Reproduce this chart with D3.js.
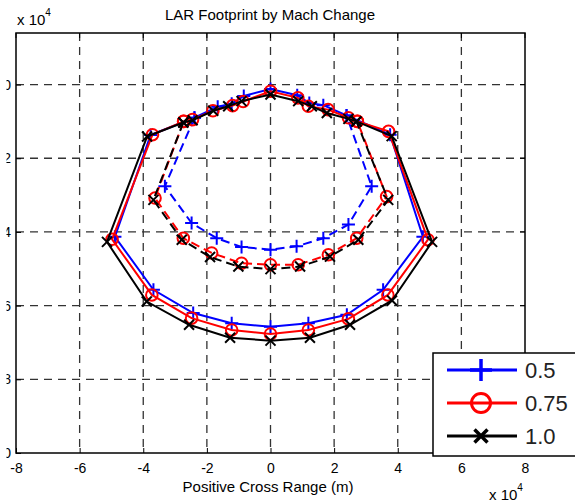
<!DOCTYPE html>
<html>
<head>
<meta charset="utf-8">
<script src="https://cdn.jsdelivr.net/npm/d3@7"></script>
<style>
  body { margin: 0; background: #fff; }
  svg { display: block; font-family: Arial, "Liberation Sans", sans-serif; }
</style>
</head>
<body>
<div id="chart"></div>
<script>
// tick values (units of 1e4 m)
const xTicks = [-8, -6, -4, -2, 0, 2, 4, 6, 8];
const yTicks = [-10, -8, -6, -4, -2, 0];

const machLabels = ['0.5', '0.75', '1.0'];

// outer footprint (closed): top arc left->right, right corner, bottom arc right->left, left corner
const m05OuterX = [-3.77, -2.39, -1.66, -1.22, -0.84, 0, 0.84, 1.22, 1.66, 2.39, 3.76, 4.79, 3.54, 2.40, 1.19, 0, -1.22, -2.43, -3.68, -4.89];
const m05OuterY = [-1.37, -0.90, -0.60, -0.52, -0.31, -0.12, -0.29, -0.50, -0.56, -0.84, -1.36, -4.13, -5.57, -6.25, -6.48, -6.57, -6.48, -6.20, -5.57, -4.13];
const m05InnerX = [-2.39, -3.32, -2.48, -1.69, -0.91, 0, 0.82, 1.66, 2.45, 3.18, 2.39];
const m05InnerY = [-0.90, -2.76, -3.76, -4.17, -4.41, -4.48, -4.39, -4.17, -3.80, -2.76, -0.84];

const m075OuterX = [-3.71, -2.73, -2.45, -1.81, -1.19, -0.86, 0, 0.86, 1.19, 1.81, 2.45, 2.73, 3.71, 4.95, 3.69, 2.45, 1.19, 0, -1.22, -2.48, -3.73, -4.98];
const m075OuterY = [-1.36, -1.00, -0.95, -0.71, -0.57, -0.46, -0.18, -0.36, -0.59, -0.68, -0.90, -1.00, -1.27, -4.21, -5.71, -6.36, -6.66, -6.77, -6.66, -6.34, -5.71, -4.20];
const m075InnerX = [-2.73, -3.63, -2.74, -1.85, -0.91, 0, 0.87, 1.82, 2.71, 3.65, 2.73];
const m075InnerY = [-1.00, -3.08, -4.17, -4.57, -4.85, -4.89, -4.89, -4.62, -4.17, -3.04, -1.00];

const m10OuterX = [-3.88, -2.74, -2.45, -1.80, -1.33, -0.91, 0, 0.87, 1.30, 1.77, 2.45, 2.70, 3.81, 5.08, 3.82, 2.50, 1.24, 0, -1.27, -2.56, -3.89, -5.14];
const m10OuterY = [-1.41, -1.03, -0.97, -0.71, -0.59, -0.45, -0.27, -0.45, -0.59, -0.77, -0.93, -1.00, -1.40, -4.27, -5.86, -6.52, -6.87, -6.95, -6.87, -6.52, -5.89, -4.27];
const m10InnerX = [-2.74, -3.68, -2.79, -1.90, -1.01, 0, 0.93, 1.87, 2.76, 3.70, 2.70];
const m10InnerY = [-1.03, -3.13, -4.21, -4.68, -4.94, -5.01, -4.94, -4.67, -4.21, -3.13, -1.00];

const width = 575, height = 503;
const margin = { left: 16, right: 50, top: 33, bottom: 50 };

const x = d3.scaleLinear().domain([-8, 8]).range([margin.left, width - margin.right]);
const y = d3.scaleLinear().domain([-10, 1.4]).range([height - margin.bottom, margin.top]);

const zip = (xs, ys) => xs.map((v, i) => [v, ys[i]]);

const series = [
  { name: machLabels[0], color: '#0000ff', marker: 'plus',   outer: zip(m05OuterX, m05OuterY),  inner: zip(m05InnerX, m05InnerY) },
  { name: machLabels[1], color: '#ff0000', marker: 'circle', outer: zip(m075OuterX, m075OuterY), inner: zip(m075InnerX, m075InnerY) },
  { name: machLabels[2], color: '#000000', marker: 'cross',  outer: zip(m10OuterX, m10OuterY),  inner: zip(m10InnerX, m10InnerY) }
];

const svg = d3.select('#chart').append('svg')
  .attr('width', width)
  .attr('height', height);

const x0 = margin.left, x1 = width - margin.right;
const y0 = margin.top, y1 = height - margin.bottom;

// grid
const grid = svg.append('g')
  .attr('stroke', '#333')
  .attr('stroke-width', 1.3)
  .attr('stroke-dasharray', '8,6');
grid.selectAll('.gx').data(xTicks.slice(1, -1)).enter().append('line')
  .attr('x1', d => x(d)).attr('x2', d => x(d))
  .attr('y1', y0).attr('y2', y1);
grid.selectAll('.gy').data(yTicks.slice(1)).enter().append('line')
  .attr('x1', x0).attr('x2', x1)
  .attr('y1', d => y(d)).attr('y2', d => y(d));

// axes
const fmt = d => String(d);
svg.append('g')
  .attr('transform', `translate(0,${y1})`)
  .call(d3.axisBottom(x).tickValues(xTicks).tickFormat(fmt).tickSizeInner(-5).tickSizeOuter(0).tickPadding(10))
  .call(g => g.select('.domain').remove())
  .call(g => g.selectAll('text').attr('font-size', 14).attr('fill', '#000').attr('font-family', 'Arial, "Liberation Sans", sans-serif'));

// the y labels sit partly off the left edge, as in the source picture
svg.append('clipPath').attr('id', 'ylabClip')
  .append('rect').attr('x', 6.5 - x0).attr('y', 0).attr('width', 40).attr('height', height);

svg.append('g')
  .attr('transform', `translate(${x0},0)`)
  .attr('clip-path', 'url(#ylabClip)')
  .call(d3.axisLeft(y).tickValues(yTicks).tickFormat(fmt).tickSizeInner(-5).tickSizeOuter(0).tickPadding(5))
  .call(g => g.select('.domain').remove())
  .call(g => g.selectAll('text').attr('font-size', 14).attr('fill', '#000').attr('font-family', 'Arial, "Liberation Sans", sans-serif'));

// top/right ticks
svg.append('g').selectAll('line').data(xTicks).enter().append('line')
  .attr('x1', d => x(d)).attr('x2', d => x(d)).attr('y1', y0).attr('y2', y0 + 5)
  .attr('stroke', '#000');
svg.append('g').selectAll('line').data(yTicks).enter().append('line')
  .attr('x1', x1).attr('x2', x1 - 5).attr('y1', d => y(d)).attr('y2', d => y(d))
  .attr('stroke', '#000');

svg.append('rect')
  .attr('x', x0).attr('y', y0)
  .attr('width', x1 - x0).attr('height', y1 - y0)
  .attr('fill', 'none').attr('stroke', '#000').attr('stroke-width', 1.5);

// markers
function markerPath(type, s) {
  if (type === 'plus') return `M${-s},0H${s}M0,${-s}V${s}`;
  if (type === 'cross') return `M${-s},${-s}L${s},${s}M${-s},${s}L${s},${-s}`;
  return null;
}
function drawMarkers(g, pts, d, size) {
  const sel = g.selectAll(null).data(pts).enter();
  if (d.marker === 'circle') {
    sel.append('circle')
      .attr('cx', p => x(p[0])).attr('cy', p => y(p[1]))
      .attr('r', size)
      .attr('fill', 'none').attr('stroke', d.color).attr('stroke-width', 2);
  } else {
    sel.append('path')
      .attr('transform', p => `translate(${x(p[0])},${y(p[1])})`)
      .attr('d', markerPath(d.marker, size))
      .attr('fill', 'none').attr('stroke', d.color).attr('stroke-width', 2);
  }
}

const line = d3.line().x(p => x(p[0])).y(p => y(p[1]));
const msize = { plus: 6.5, circle: 5.8, cross: 5 };

const plot = svg.append('g');
series.forEach(d => {
  const g = plot.append('g');
  g.append('path')
    .attr('d', line(d.outer.concat([d.outer[0]])))
    .attr('fill', 'none').attr('stroke', d.color).attr('stroke-width', 2);
  g.append('path')
    .attr('d', line(d.inner))
    .attr('fill', 'none').attr('stroke', d.color).attr('stroke-width', 2)
    .attr('stroke-dasharray', '9,5');
  drawMarkers(g, d.outer, d, msize[d.marker]);
  drawMarkers(g, d.inner, d, msize[d.marker]);
});

// texts
svg.append('text')
  .attr('x', 270).attr('y', 20)
  .attr('text-anchor', 'middle').attr('font-size', 15)
  .text('LAR Footprint by Mach Change');

svg.append('text')
  .attr('x', 268).attr('y', 492)
  .attr('text-anchor', 'middle').attr('font-size', 15)
  .text('Positive Cross Range (m)');

function expLabel(xp, yp) {
  const t = svg.append('text').attr('x', xp).attr('y', yp).attr('font-size', 15);
  t.append('tspan').text('x 10');
  t.append('tspan').attr('font-size', 10).attr('dy', -9).text('4');
}
expLabel(17, 25);
expLabel(489, 500);

// legend
const leg = svg.append('g').attr('transform', 'translate(433,353)');
leg.append('rect')
  .attr('width', 150).attr('height', 103)
  .attr('fill', '#fff').attr('stroke', '#000').attr('stroke-width', 1.5);
const legSize = { plus: 11, circle: 9.5, cross: 6.5 };
series.forEach((d, i) => {
  const row = leg.append('g').attr('transform', `translate(0,${17 + i * 33})`);
  row.append('line')
    .attr('x1', 14).attr('x2', 84)
    .attr('stroke', d.color).attr('stroke-width', 3);
  if (d.marker === 'circle') {
    row.append('circle').attr('cx', 48).attr('r', legSize.circle)
      .attr('fill', 'none').attr('stroke', d.color).attr('stroke-width', 3);
  } else {
    row.append('path').attr('transform', 'translate(48,0)')
      .attr('d', markerPath(d.marker, legSize[d.marker]))
      .attr('fill', 'none').attr('stroke', d.color).attr('stroke-width', 3.5);
  }
  row.append('text')
    .attr('x', 92).attr('dy', '0.36em')
    .attr('font-size', 22).attr('fill', '#222')
    .text(d.name);
});
</script>
</body>
</html>
